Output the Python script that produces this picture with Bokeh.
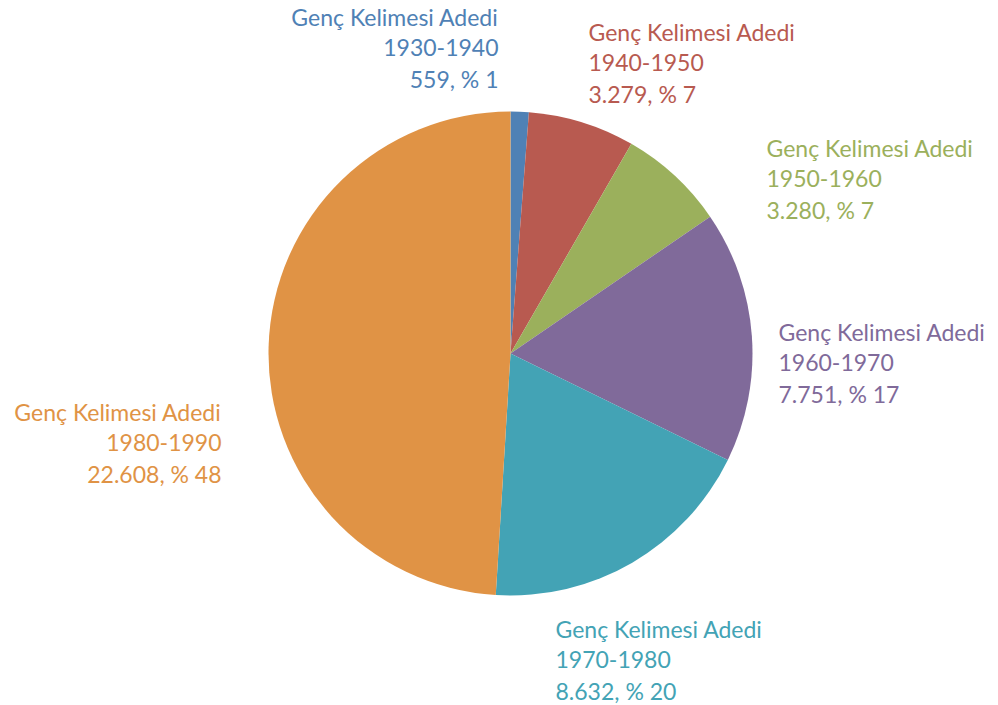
import math
from bokeh.plotting import figure
from bokeh.models import Range1d, ColumnDataSource
from bokeh.core.properties import value
from bokeh.embed import file_html
from bokeh.resources import INLINE

# ---- data ----
periods = ["1930-1940", "1940-1950", "1950-1960", "1960-1970", "1970-1980", "1980-1990"]
counts = [559, 3279, 3280, 7751, 8632, 22608]
count_labels = ["559", "3.279", "3.280", "7.751", "8.632", "22.608"]
pct_labels = ["% 1", "% 7", "% 7", "% 17", "% 20", "% 48"]
title_label = "Genç Kelimesi Adedi"
colors = ["#4F81B5", "#B85A50", "#9BB05C", "#806A9A", "#43A3B5", "#E09345"]

# ---- layout (page pixels of the label blocks) ----
W, H = 998, 705
cx, cy, R = 510, 353, 242
label_pos = [(498, 16, "right"), (588, 31, "left"), (766, 147, "left"),
             (778, 331, "left"), (555, 628, "left"), (221, 411, "right")]
line_gap = 31

p = figure(width=W, height=H, output_backend="svg", toolbar_location=None,
           x_range=Range1d(0, W), y_range=Range1d(0, H),
           min_border=0)
p.axis.visible = False
p.grid.visible = False
p.outline_line_color = None
p.background_fill_color = "white"
p.border_fill_color = "white"

total = sum(counts)
starts, ends = [], []
cum = 0
for c in counts:
    starts.append(math.pi / 2 - 2 * math.pi * cum / total)
    cum += c
    ends.append(math.pi / 2 - 2 * math.pi * cum / total)

src = ColumnDataSource(dict(x=[cx] * len(counts), y=[H - cy] * len(counts),
                            start=starts, end=ends, color=colors))
p.wedge(x="x", y="y", radius=R, start_angle="start", end_angle="end",
        direction="clock", fill_color="color", line_color=None, source=src)

tx, ty, tt, tc, ta = [], [], [], [], []
for i, (lx, ly, al) in enumerate(label_pos):
    lines = [title_label, periods[i], f"{count_labels[i]}, {pct_labels[i]}"]
    for k, t in enumerate(lines):
        tx.append(lx)
        ty.append(H - (ly + k * line_gap))
        tt.append(t)
        tc.append(colors[i])
        ta.append(al)

tsrc = ColumnDataSource(dict(x=tx, y=ty, text=tt, color=tc, align=ta))
p.text(x="x", y="y", text="text", text_color="color", text_align="align",
       text_baseline="middle", text_font=value("Lato"), text_font_size="23px",
       source=tsrc)

open("out.html", "w").write(file_html(p, INLINE))
